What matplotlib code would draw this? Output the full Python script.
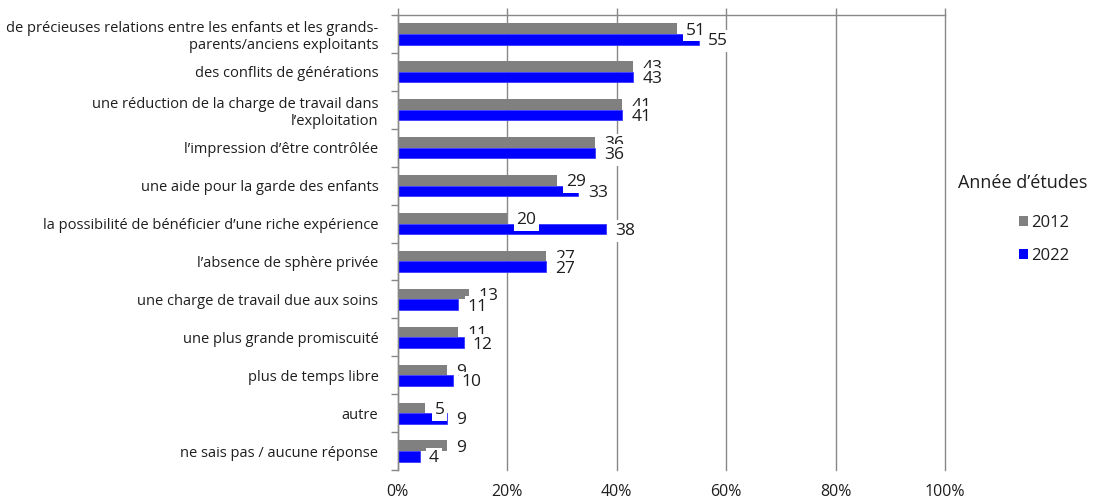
import numpy as np
import matplotlib
matplotlib.use('Agg')
import matplotlib.pyplot as plt
from matplotlib.ticker import FixedLocator, PercentFormatter

plt.rcParams['font.family'] = ['Open Sans', 'DejaVu Sans']

# réponses (ordre d'affichage, de haut en bas)
categories = [
    'de précieuses relations entre les enfants et les grands-\nparents/anciens exploitants',
    'des conflits de générations',
    'une réduction de la charge de travail dans\nl’exploitation',
    'l’impression d’être contrôlée',
    'une aide pour la garde des enfants',
    'la possibilité de bénéficier d’une riche expérience',
    'l’absence de sphère privée',
    'une charge de travail due aux soins',
    'une plus grande promiscuité',
    'plus de temps libre',
    'autre',
    'ne sais pas / aucune réponse',
]
val_2012 = [51, 43, 41, 36, 29, 20, 27, 13, 11, 9, 5, 9]
val_2022 = [55, 43, 41, 36, 33, 38, 27, 11, 12, 10, 9, 4]
annees = ['2012', '2022']

gris = '#808080'
bleu = '#0000ff'
trait = '#888888'
texte = '#1e1e1e'

fig = plt.figure(figsize=(10.93, 4.99), dpi=100)
ax = fig.add_axes([0.364, 0.058, 0.5006, 0.912])

y = np.arange(len(categories))
h = 0.28
ax.barh(y - h / 2, val_2012, height=h, color=gris, label=annees[0], zorder=2)
ax.barh(y + h / 2, val_2022, height=h, color=bleu, edgecolor='#3a3aff',
        linewidth=0.6, label=annees[1], zorder=2)

# étiquettes de valeurs avec fond blanc (celles de 2022 par-dessus)
boite = dict(facecolor='white', edgecolor='none', pad=2.0)
for yi, v in zip(y, val_2012):
    ax.text(v + 1.7, yi - h / 2 + 0.05, str(v), va='center', ha='left',
            fontsize=12.5, color=texte, bbox=boite, zorder=3)
for yi, v in zip(y, val_2022):
    ax.text(v + 1.7, yi + h / 2 + 0.05, str(v), va='center', ha='left',
            fontsize=12.5, color=texte, bbox=boite, zorder=4)

ax.set_xlim(0, 100)
ax.set_ylim(len(categories) - 0.5, -0.5)

ax.xaxis.set_major_locator(FixedLocator([0, 20, 40, 60, 80, 100]))
ax.xaxis.set_major_formatter(PercentFormatter(decimals=0))
ax.tick_params(axis='x', which='major', bottom=False, top=True, labelbottom=True,
               length=5, width=1, color=trait, direction='out', labelsize=11.5,
               pad=5, labelcolor=texte)
ax.grid(axis='x', color=trait, linewidth=1, zorder=0)
for g in ax.get_xgridlines():
    g.set_clip_on(False)

ax.set_yticks(y)
ax.set_yticklabels(categories, fontsize=10.5, color=texte, ha='right')
ax.yaxis.set_minor_locator(FixedLocator(np.arange(len(categories) + 1) - 0.5))
ax.tick_params(axis='y', which='major', length=0, pad=14)
ax.tick_params(axis='y', which='minor', length=5, width=1, color=trait)

for s in ['right', 'bottom']:
    ax.spines[s].set_visible(False)
for s in ['top', 'left']:
    ax.spines[s].set_color(trait)
    ax.spines[s].set_linewidth(1)

# légende : titre à part, entrées décalées vers la droite
fig.text(958 / 1093, 1 - 183 / 499, 'Année d’études', fontsize=13, color=texte,
         ha='left', va='center')
leg = fig.legend(loc='upper left', bbox_to_anchor=(1019 / 1093, 1 - 215 / 499),
                 frameon=False, fontsize=12, handlelength=0.55, handleheight=0.55,
                 handletextpad=0.15, labelspacing=1.0, borderpad=0,
                 borderaxespad=0)
for t in leg.get_texts():
    t.set_color(texte)
for hnd in leg.legend_handles:
    hnd.set_edgecolor('none')

fig.savefig('out.png', dpi=100)
